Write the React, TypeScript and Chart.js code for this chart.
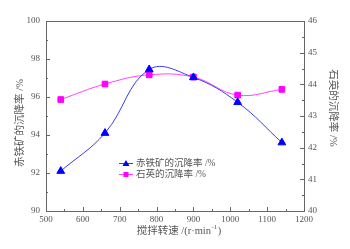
import React, { useEffect, useRef } from "react";
import { Chart, registerables } from "chart.js";

Chart.register(...registerables);

const speeds = [540, 660, 780, 900, 1020, 1140];
const hematiteRate = [92.1, 94.1, 97.45, 97.03, 95.72, 93.6];
const quartzRate = [43.52, 44.01, 44.3, 44.23, 43.66, 43.84];
const hematiteLabel = "赤铁矿的沉降率 /%";
const quartzLabel = "石英的沉降率 /%";
const xTitle = "搅拌转速 /(r·min";
const leftTitle = "赤铁矿的沉降率 /%";
const rightTitle = "石英的沉降率 /%";

const GRAY = "#555";
const AXIS = "#666";
const SERIF = "'Liberation Serif', 'Noto Sans CJK SC', serif";

const framePlugin = {
  id: "frame",
  afterDraw(chart: any) {
    const { ctx, chartArea: a, scales } = chart;
    ctx.save();
    ctx.strokeStyle = AXIS;
    ctx.lineWidth = 1;
    ctx.strokeRect(a.left + 0.5, a.top + 0.5, a.right - a.left, a.bottom - a.top);
    const x = scales.x, y = scales.y, y1 = scales.y1;
    ctx.beginPath();
    for (let v = 500; v <= 1200; v += 50) {
      const px = Math.round(x.getPixelForValue(v)) + 0.5;
      const len = v % 100 === 0 ? 4 : 2;
      ctx.moveTo(px, a.bottom);
      ctx.lineTo(px, a.bottom - len);
    }
    for (let v = 90; v <= 100; v += 1) {
      const py = Math.round(y.getPixelForValue(v)) + 0.5;
      const len = v % 2 === 0 ? 4 : 2;
      ctx.moveTo(a.left, py);
      ctx.lineTo(a.left + len, py);
    }
    for (let v = 40; v <= 46; v += 0.5) {
      const py = Math.round(y1.getPixelForValue(v)) + 0.5;
      const len = Number.isInteger(v) ? 4 : 2;
      ctx.moveTo(a.right, py);
      ctx.lineTo(a.right - len, py);
    }
    ctx.stroke();

    // titles
    ctx.fillStyle = GRAY;
    ctx.textBaseline = "middle";
    ctx.font = `10.5px ${SERIF}`;
    ctx.textAlign = "left";
    const main = xTitle;
    const wMain = ctx.measureText(main).width;
    ctx.font = `7px ${SERIF}`;
    const sup = "-1";
    const wSup = ctx.measureText(sup).width;
    ctx.font = `10.5px ${SERIF}`;
    const wEnd = ctx.measureText(")").width;
    const total = wMain + wSup + wEnd + 1;
    const cx = (a.left + a.right) / 2 + 4;
    let sx = cx - total / 2;
    const ty = 231;
    ctx.fillText(main, sx, ty);
    sx += wMain + 0.5;
    ctx.font = `7px ${SERIF}`;
    ctx.fillText(sup, sx, ty - 4);
    sx += wSup + 0.5;
    ctx.font = `10.5px ${SERIF}`;
    ctx.fillText(")", sx, ty);

    ctx.textAlign = "center";
    ctx.save();
    ctx.translate(20, 123);
    ctx.rotate(-Math.PI / 2);
    ctx.fillText(leftTitle, 0, 0);
    ctx.restore();
    ctx.save();
    ctx.translate(333, 108);
    ctx.rotate(Math.PI / 2);
    ctx.fillText(rightTitle, 0, 0);
    ctx.restore();

    // legend
    const items = chart.data.datasets;
    const lx0 = 119, lx1 = 133;
    const rows = [163.5, 174.5];
    ctx.font = `9.5px ${SERIF}`;
    ctx.textAlign = "left";
    items.forEach((ds: any, i: number) => {
      const ly = rows[i];
      ctx.strokeStyle = ds.borderColor;
      ctx.lineWidth = 1;
      ctx.beginPath();
      ctx.moveTo(lx0, ly);
      ctx.lineTo(lx1, ly);
      ctx.stroke();
      ctx.fillStyle = ds.pointBackgroundColor;
      const mx = (lx0 + lx1) / 2;
      ctx.beginPath();
      if (ds.pointStyle === "triangle") {
        ctx.moveTo(mx, ly - 3.5);
        ctx.lineTo(mx + 3.5, ly + 2.5);
        ctx.lineTo(mx - 3.5, ly + 2.5);
        ctx.closePath();
      } else {
        ctx.rect(mx - 2.5, ly - 2.5, 5, 5);
      }
      ctx.fill();
      ctx.fillStyle = GRAY;
      ctx.fillText(ds.label, 136, ly);
    });
    ctx.restore();
  },
};

const plain = (v: any) => String(v);

export default function App() {
  const ref = useRef<HTMLCanvasElement | null>(null);
  useEffect(() => {
    document.body.style.margin = "0";
    const c = ref.current!;
    const chart = new Chart(c, {
      type: "line",
      data: {
        datasets: [
          {
            label: hematiteLabel,
            data: speeds.map((s, i) => ({ x: s, y: hematiteRate[i] })),
            yAxisID: "y",
            borderColor: "#3b3bf0",
            backgroundColor: "#0000ff",
            pointBackgroundColor: "#0000ff",
            pointBorderColor: "#0000ff",
            pointStyle: "triangle",
            pointRadius: 4.5,
            borderWidth: 1,
            tension: 0.4,
          },
          {
            label: quartzLabel,
            data: speeds.map((s, i) => ({ x: s, y: quartzRate[i] })),
            yAxisID: "y1",
            borderColor: "#ff44ff",
            backgroundColor: "#ff00ff",
            pointBackgroundColor: "#ff00ff",
            pointBorderColor: "#ff00ff",
            pointStyle: "rect",
            pointRadius: 4,
            borderWidth: 1,
            tension: 0.4,
          },
        ],
      },
      options: {
        animation: false,
        responsive: false,
        layout: { padding: { top: 21, left: 0, right: 0, bottom: 0 } },
        plugins: { legend: { display: false }, tooltip: { enabled: false } },
        scales: {
          x: {
            type: "linear",
            min: 500,
            max: 1200,
            afterFit: (s: any) => { s.height = 38; },
            grid: { display: false, drawTicks: false },
            border: { display: false },
            ticks: { stepSize: 100, padding: 3, color: GRAY, font: { family: SERIF, size: 9 }, callback: plain },
          },
          y: {
            type: "linear",
            position: "left",
            min: 90,
            max: 100,
            afterFit: (s: any) => { s.width = 46; },
            grid: { display: false, drawTicks: false },
            border: { display: false },
            ticks: { stepSize: 2, padding: 6, color: GRAY, font: { family: SERIF, size: 9 }, callback: plain },
          },
          y1: {
            type: "linear",
            position: "right",
            min: 40,
            max: 46,
            afterFit: (s: any) => { s.width = 46; },
            grid: { display: false, drawTicks: false },
            border: { display: false },
            ticks: { stepSize: 1, padding: 4, color: GRAY, font: { family: SERIF, size: 9 }, callback: plain },
          },
        },
      } as any,
      plugins: [framePlugin],
    });
    return () => chart.destroy();
  }, []);
  return (
    <div style={{ width: 350, height: 249, background: "#fff" }}>
      <canvas ref={ref} width={350} height={249} style={{ display: "block", width: 350, height: 249 }} />
    </div>
  );
}
